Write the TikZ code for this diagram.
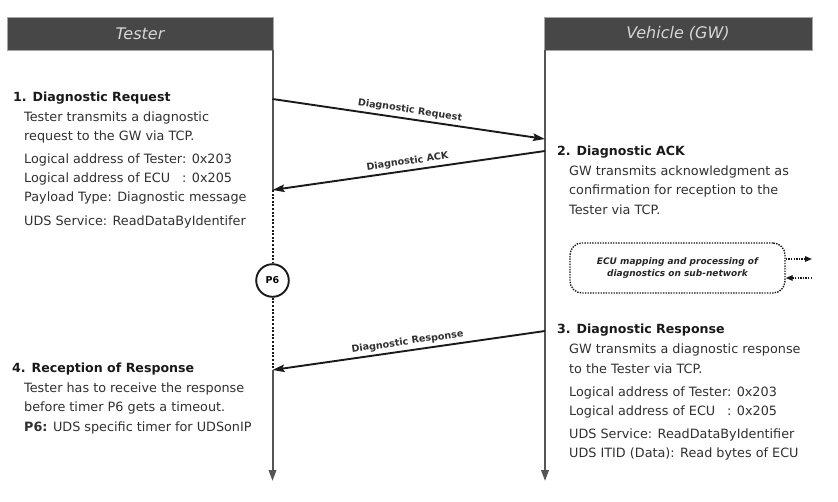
\documentclass[tikz,border=0pt]{standalone}
\usepackage{fontspec}
\setmainfont{DejaVu Sans}
\usepackage{calc}
\usetikzlibrary{arrows.meta,positioning,calc}
\definecolor{hdrgray}{HTML}{474747}
\definecolor{hdrtext}{HTML}{D6D6D6}
\definecolor{linegray}{HTML}{555555}
\definecolor{txtgray}{HTML}{303030}
\definecolor{msgblack}{HTML}{1A1A1A}
\newcommand{\txtlines}[1]{\begin{tabular}[t]{@{}l@{}}#1\end{tabular}}
\newcommand{\ecuaddr}{\makebox[\widthof{Tester}][l]{ECU}}

\tikzset{
  header/.style={fill=hdrgray,draw=gray!70,line width=0.8pt,minimum height=33pt,inner sep=0pt,
    text=hdrtext,font=\fontsize{16}{18}\selectfont\itshape},
  lifebase/.style={draw=linegray,line width=2pt},
  lifeline/.style={lifebase,-{Triangle[length=11pt,width=7.5pt]}},
  waitline/.style={draw=msgblack,line width=2pt,dash pattern=on 2pt off 1.6pt},
  msg/.style={draw=msgblack,line width=1.9pt,-{Stealth[length=12pt,width=7.5pt,inset=2pt]}},
  msglabel/.style={sloped,above,inner sep=3pt,text=txtgray,font=\fontsize{9.6}{11}\selectfont\bfseries},
  heading/.style={anchor=base west,inner sep=0pt,text=black!90,font=\fontsize{12.6}{15}\selectfont\bfseries},
  bodytxt/.style={anchor=base west,inner sep=0pt,text=txtgray,font=\fontsize{12.8}{19.2}\selectfont},
  timer/.style={circle,draw=msgblack,line width=1.9pt,fill=white,minimum size=32.6pt,inner sep=0pt,
    font=\fontsize{9.5}{11}\selectfont\bfseries},
  subnet/.style={draw=msgblack,line width=1.4pt,dash pattern=on 1.4pt off 1.2pt,rounded corners=12pt,
    minimum width=215pt,minimum height=50pt,align=center,text=black!85,
    font=\fontsize{9}{12}\selectfont\bfseries\itshape},
  subarrow/.style={draw=msgblack,line width=1.4pt,dash pattern=on 1.4pt off 1.2pt,
    -{Triangle[length=7pt,width=5.5pt]}}
}

\begin{document}
\begin{tikzpicture}[x=1pt,y=-1pt]
\useasboundingbox (0,0) rectangle (838,502);
% headers
\node[header,minimum width=266pt] (tester) at (140,33.5) {Tester};
\node[header,minimum width=268pt] (vehicle) at (678,33.5) {Vehicle (GW)};
% points on the lifelines
\coordinate (t0) at (272.5,50);
\coordinate (tReq) at (272.5,99);
\coordinate (tAck) at (272.5,190);
\coordinate (tResp) at (272.5,370);
\coordinate (tEnd) at (272.5,481);
\coordinate (v0) at (545,50);
\coordinate (vReq) at (545,139);
\coordinate (vAck) at (545,151);
\coordinate (vResp) at (545,331);
\coordinate (vEnd) at (545,481);
% lifelines
\node[timer] (p6) at (272.5,280.5) {P6};
\draw[lifebase] (t0) -- (tAck);
\draw[waitline] (tAck) -- (p6);
\draw[waitline] (p6) -- (tResp);
\draw[lifeline] (tResp) -- (tEnd);
\draw[lifeline] (v0) -- (vEnd);
% messages
\draw[msg] (tReq) -- node[msglabel] {Diagnostic Request} (vReq);
\draw[msg] (vAck) -- node[msglabel] {Diagnostic ACK} (tAck);
\draw[msg] (vResp) -- node[msglabel] {Diagnostic Response} (tResp);
% sub-network
\node[subnet] (ecu) at (677.5,268) {ECU mapping and processing of\\ diagnostics on sub-network};
\coordinate (subout) at (812,259);
\coordinate (subin) at (812,278);
\draw[subarrow] (ecu.east |- subout) -- (subout);
\draw[subarrow] (subin) -- (ecu.east |- subin);
% step texts
\node[heading] (reqhead) at (13,101.7) {1. Diagnostic Request};
\node[bodytxt] (reqbody) at (24,121.7) {\txtlines{Tester transmits a diagnostic\\
  request to the GW via TCP.\\[3pt]
  Logical address of Tester: 0x203\\
  Logical address of \ecuaddr: 0x205\\
  Payload Type: Diagnostic message\\[4.5pt]
  UDS Service: ReadDataByIdentifer}};
\node[heading] (ackhead) at (557,155.7) {2. Diagnostic ACK};
\node[bodytxt] (ackbody) at (569,175.7) {\txtlines{GW transmits acknowledgment as\\
  confirmation for reception to the\\
  Tester via TCP.}};
\node[heading] (resphead) at (557,334) {3. Diagnostic Response};
\node[bodytxt] (respbody) at (569,354) {\txtlines{GW transmits a diagnostic response\\
  to the Tester via TCP.\\[4pt]
  Logical address of Tester: 0x203\\
  Logical address of \ecuaddr: 0x205\\[4pt]
  UDS Service: ReadDataByIdentifier\\
  UDS ITID (Data): Read bytes of ECU}};
\node[heading] (rcvhead) at (12,372.7) {4. Reception of Response};
\node[bodytxt] (rcvbody) at (24,392.7) {\txtlines{Tester has to receive the response\\
  before timer P6 gets a timeout.\\
  \textbf{P6:} UDS specific timer for UDSonIP}};
\end{tikzpicture}
\end{document}
